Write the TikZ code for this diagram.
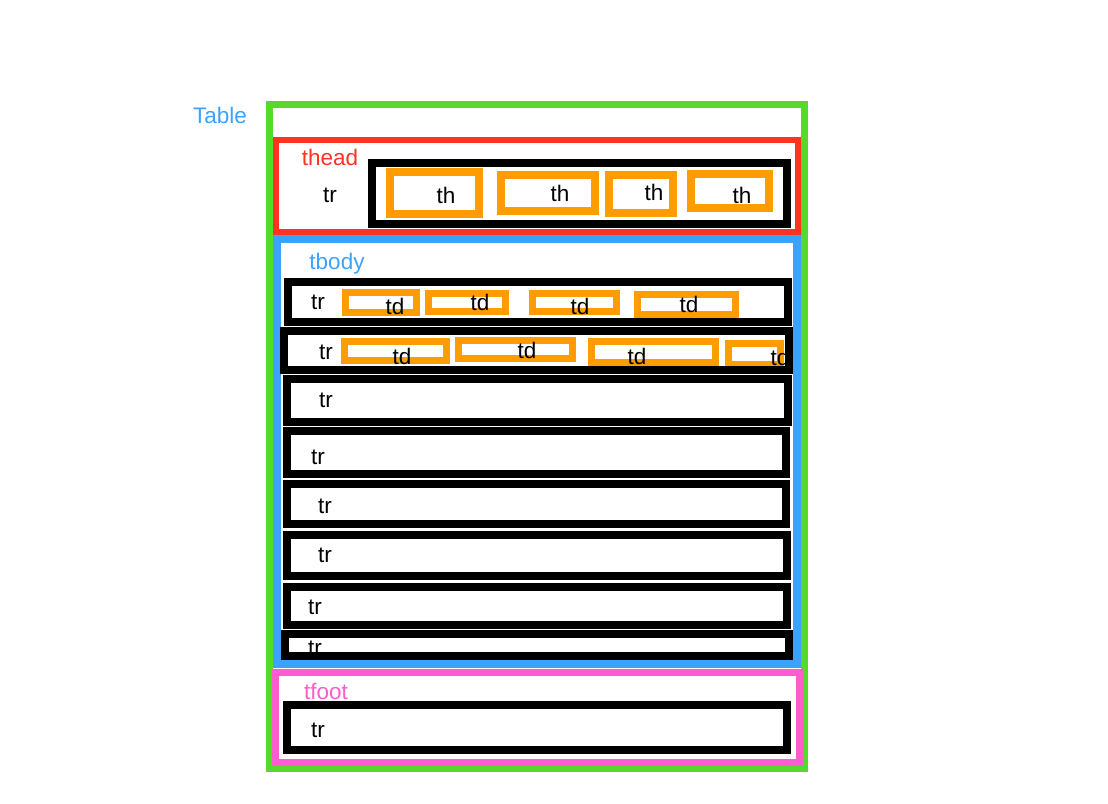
\documentclass[tikz,border=0pt]{standalone}
\usepackage{fontspec}
\setmainfont{Liberation Sans}
\definecolor{cgreen}{RGB}{86,217,42}
\definecolor{cred}{RGB}{255,51,32}
\definecolor{cblue}{RGB}{59,163,255}
\definecolor{corange}{RGB}{255,157,0}
\definecolor{cpink}{RGB}{255,92,207}
\begin{document}
\begin{tikzpicture}[x=1pt,y=-1pt,
  lbl/.style={inner sep=0pt,font=\fontsize{22.5}{22.5}\selectfont},
  trbox/.style={draw=black,line width=8pt},
  cell/.style={draw=corange,line width=7pt},
  thcell/.style={draw=corange,line width=8pt}]
\useasboundingbox[fill=white] (0,0) rectangle (1108,803);
% table
\draw[cgreen,line width=7pt] (269.5,104.5) rectangle (804.5,768.5);
\node[lbl,text=cblue] (ltable) at (220,115) {Table};
% thead
\draw[cred,line width=6pt] (276,140) rectangle (798,232);
\node[lbl,text=cred] (lthead) at (330,157) {thead};
\node[lbl] (ltrh) at (330,195) {tr};
\draw[trbox] (372,163) rectangle (787,224);
\draw[thcell] (390,172) rectangle (479,214);
\draw[thcell] (501,175) rectangle (595,211);
\draw[thcell] (609,175) rectangle (673,213);
\draw[thcell] (691,174) rectangle (769,208);
\node[lbl] (th1) at (446,195) {th};
\node[lbl] (th2) at (560,193) {th};
\node[lbl] (th3) at (654,192) {th};
\node[lbl] (th4) at (742,195) {th};
% tbody
\draw[cblue,line width=8pt] (277,239) rectangle (797,664);
\node[lbl,text=cblue] (ltbody) at (337,264) {tbody};
% row 1 cells
\draw[cell] (345.5,292.5) rectangle (416.5,312.5);
\draw[cell] (428.5,293.5) rectangle (505.5,311.5);
\draw[cell] (532.5,293.5) rectangle (616.5,311.5);
\draw[cell] (637.5,294.5) rectangle (735.5,314.5);
\node[lbl] (td11) at (395,306) {td};
\node[lbl] (td12) at (480,302) {td};
\node[lbl] (td13) at (580,306) {td};
\node[lbl] (td14) at (689,304) {td};
% row 2 cells
\draw[cell] (344.5,341.5) rectangle (446.5,360.5);
\draw[cell] (458.5,340.5) rectangle (572.5,358.5);
\draw[cell] (591.5,341.5) rectangle (715.5,362.5);
\draw[cell] (728.5,343.5) rectangle (780.5,364.5);
\node[lbl] (td21) at (402,356) {td};
\node[lbl] (td22) at (527,350) {td};
\node[lbl] (td23) at (637,356) {td};
\node[lbl] (td24) at (780,357) {td};
% rows
\draw[trbox] (288,282) rectangle (788,322);
\draw[trbox] (284,331) rectangle (789,370);
\draw[trbox] (287,379) rectangle (788,422);
\draw[trbox] (287,431) rectangle (786,474);
\draw[trbox] (287,484) rectangle (786,524);
\draw[trbox] (287,535) rectangle (787,576);
\draw[trbox] (287,587) rectangle (787,625);
\node[lbl] (tr1) at (318,302) {tr};
\node[lbl] (tr2) at (326,352) {tr};
\node[lbl] (tr3) at (326,400) {tr};
\node[lbl] (tr4) at (318,457) {tr};
\node[lbl] (tr5) at (325,506) {tr};
\node[lbl] (tr6) at (325,555) {tr};
\node[lbl] (tr7) at (315,607) {tr};
\node[lbl] (tr8) at (315,648) {tr};
\draw[trbox] (285,634) rectangle (789,656);
% tfoot
\draw[cpink,line width=7pt] (275.5,672.5) rectangle (799.5,762.5);
\node[lbl,text=cpink] (ltfoot) at (326,691) {tfoot};
\draw[trbox] (287,705) rectangle (787,750);
\node[lbl] (trf) at (318,730) {tr};
\end{tikzpicture}
\end{document}
